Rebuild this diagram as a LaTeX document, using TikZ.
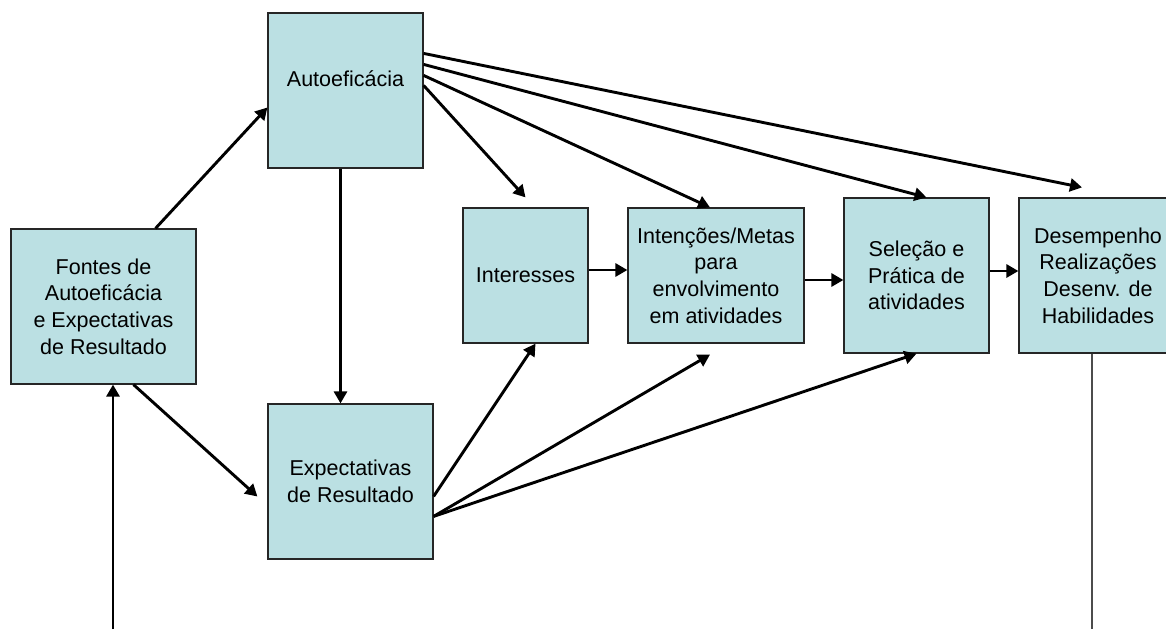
\documentclass[tikz,border=0pt]{standalone}
\usepackage{fontspec}
\setmainfont{Liberation Sans}
\usetikzlibrary{calc,arrows.meta}
\definecolor{boxfill}{HTML}{BBE0E3}

\begin{document}
\begin{tikzpicture}[x=1pt,y=-1pt,
  box/.style={draw=black!85,line width=1.2pt,fill=boxfill,align=center,inner sep=0pt,
    font=\fontsize{21.5}{26.7}\selectfont},
  arr/.style={line width=2.9pt,-{Triangle[length=12pt,width=13pt]}}]
\useasboundingbox (0,0) rectangle (1166,629);
% boxes
\node[box,minimum width=185,minimum height=155] (fontes) at (103.5,306.5) {Fontes de\\Autoeficácia\\e Expectativas\\de Resultado};
\node[box,minimum width=155,minimum height=155] (auto) at (345.5,90.5) {\raisebox{12pt}[\height][\depth]{Autoeficácia}};
\node[box,minimum width=165,minimum height=155] (expect) at (350.5,481.5) {Expectativas\\de Resultado};
\node[box,minimum width=125,minimum height=135] (interesses) at (525.5,275.5) {Interesses};
\node[box,minimum width=176,minimum height=135] (intenc) at (716,275.5) {Intenções/Metas\\para\\envolvimento\\em atividades};
\node[box,minimum width=145,minimum height=155] (selecao) at (916.5,275.5) {Seleção e\\Prática de\\atividades};
\node[box,minimum width=158,minimum height=155] (desemp) at (1098,275.5) {Desempenho\\Realizações\\Desenv. de\\Habilidades};
% arrows
\draw[arr] ($(fontes.north)+(52,0)$) -- ($(auto.west)+(0,17)$);
\draw[arr] ($(fontes.south)+(30,0)$) -- ($(expect.west)+(-10,15)$);
\draw[arr] ($(auto.south)+(-5,0)$) -- ($(expect.north)+(-10,0)$);
\foreach \dy/\tgt/\dx/\ty in {41/desemp/-16/-10, 52/selecao/10/0, 63/intenc/-6/0, 73/interesses/0/-10}{
  \draw[arr] ($(auto.north east)+(0,\dy)$) -- ($(\tgt.north)+(\dx,\ty)$);
}
\foreach \dy/\tgt/\dx/\ty in {93/interesses/10/0, 113/intenc/-6/11, 113/selecao/0/0}{
  \draw[arr] ($(expect.north east)+(0,\dy)$) -- ($(\tgt.south)+(\dx,\ty)$);
}
\draw[arr] ($(interesses.east)+(0,-5.5)$) -- ($(intenc.west)+(0,-5.5)$);
\draw[arr] ($(intenc.east)+(0,4.5)$) -- ($(selecao.west)+(0,4.5)$);
\draw[arr] ($(selecao.east)+(0,-4.5)$) -- ($(desemp.west)+(0,-4.5)$);
% feedback
\coordinate (feedin) at (113,629);
\coordinate (feedout) at (1092,629);
\draw[arr] (feedin) -- ($(fontes.south)+(9.5,0)$);
\draw[black!70,line width=1.3pt] ($(desemp.south)+(-6,0)$) -- (feedout);
\end{tikzpicture}
\end{document}
